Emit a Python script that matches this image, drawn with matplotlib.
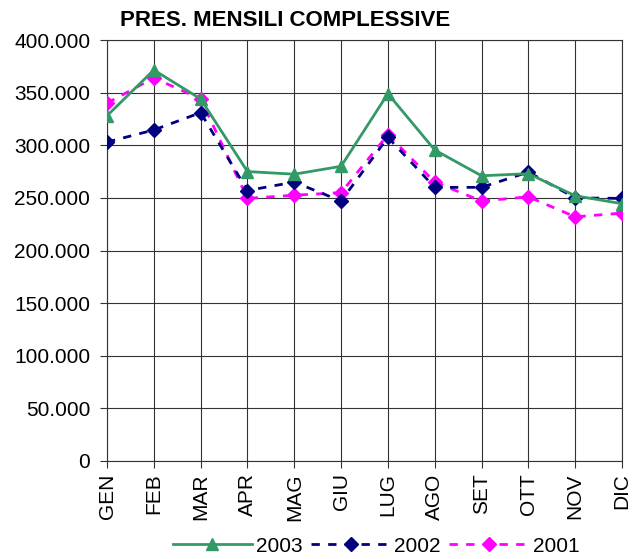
import matplotlib
matplotlib.use("Agg")
import matplotlib.pyplot as plt
from matplotlib.ticker import FuncFormatter
from matplotlib import font_manager

plt.rcParams['font.family'] = ['Liberation Sans', 'DejaVu Sans']

# dati
mesi = ["GEN", "FEB", "MAR", "APR", "MAG", "GIU", "LUG", "AGO", "SET", "OTT", "NOV", "DIC"]
pres_2003 = [328000, 371500, 344000, 275000, 272500, 280000, 349000, 295500, 271000, 273000, 252000, 244500]
pres_2002 = [303000, 314500, 331000, 257000, 265000, 247000, 307500, 260000, 260000, 274500, 250000, 249500]
pres_2001 = [340000, 364000, 344000, 249500, 252500, 255000, 310000, 265000, 247000, 251000, 232000, 235500]
y_ticks = list(range(0, 400001, 50000))

fig = plt.figure(figsize=(6.42, 5.59), dpi=100)
ax = fig.add_axes([107 / 642, 1 - 461 / 559, 515 / 642, 421 / 559])

x = range(len(mesi))
ax.plot(x, pres_2003, color="#339966", lw=2, marker="^", ms=9, label="2003", zorder=5)
ax.plot(x, pres_2002, color="#000080", lw=2, ls=(0, (3, 3)), marker="D", ms=7, label="2002", zorder=4)
ax.plot(x, pres_2001, color="#FF00FF", lw=2, ls=(0, (3, 3)), marker="D", ms=7, label="2001", zorder=3)

ax.set_xlim(0, 11)
ax.set_ylim(0, 400000)
ax.set_xticks(list(x))
ax.set_xticklabels(mesi, rotation=90, fontsize=15)
ax.set_yticks(y_ticks)
ax.yaxis.set_major_formatter(FuncFormatter(lambda v, p: "{:,.0f}".format(v).replace(",", ".")))
ax.tick_params(axis="y", labelsize=15, length=5, width=0.8, pad=7, color="#333333")
ax.tick_params(axis="x", length=5, width=0.8, pad=4, color="#333333")

ax.grid(True, color="#333333", lw=0.8)
ax.set_axisbelow(True)
for s in ax.spines.values():
    s.set_color("#333333")
    s.set_linewidth(0.8)

# titolo un po' stretto come nell'originale
nomi = {f.name for f in font_manager.fontManager.ttflist}
if "Liberation Sans Narrow" in nomi:
    fig.text(285 / 642, 1 - 20.5 / 559, "PRES. MENSILI COMPLESSIVE", ha="center", va="center",
             fontsize=18.5, fontweight="bold", family="Liberation Sans Narrow")
else:
    fig.text(285 / 642, 1 - 20.5 / 559, "PRES. MENSILI COMPLESSIVE", ha="center", va="center",
             fontsize=16, fontweight="bold")

fig.legend(loc="center", bbox_to_anchor=(376 / 642, 1 - 546 / 559), ncol=3, frameon=False,
           fontsize=15, handlelength=3.8, numpoints=1, columnspacing=0.4, handletextpad=0.2,
           borderpad=0)

fig.savefig("out.png", dpi=100)
